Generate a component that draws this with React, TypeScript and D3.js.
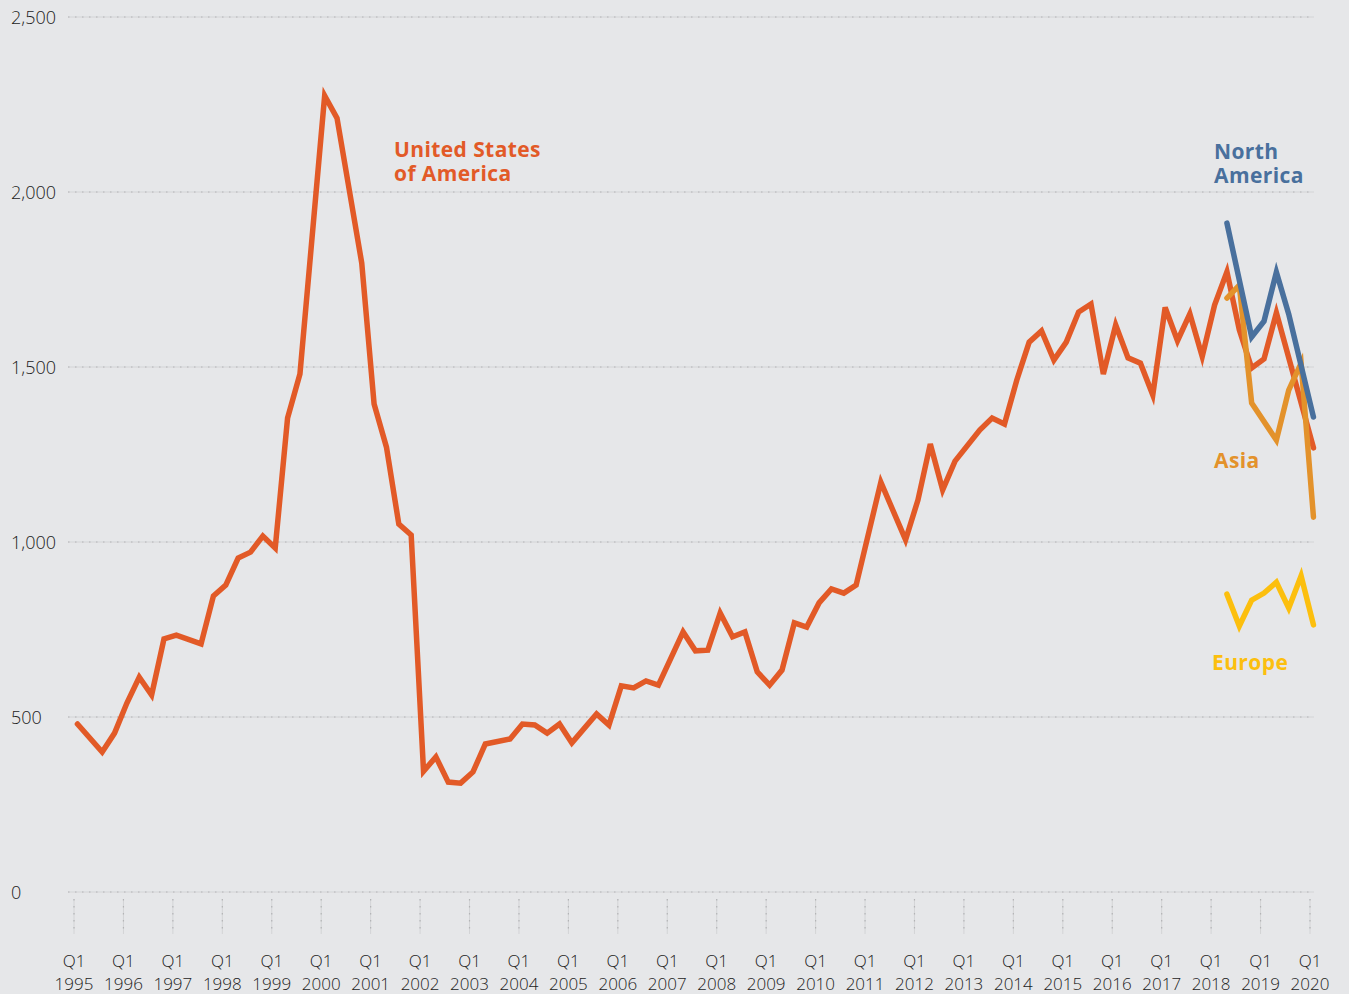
import { scaleLinear, line } from "d3";

// quarters are written "YYYY-Qn"; only the turning points of each line are listed
const usPeriods = [
  "1995-Q1", "1995-Q3", "1995-Q4", "1996-Q1", "1996-Q2", "1996-Q3", "1996-Q4",
  "1997-Q1", "1997-Q3", "1997-Q4", "1998-Q1", "1998-Q2", "1998-Q3", "1998-Q4",
  "1999-Q1", "1999-Q2", "1999-Q3", "2000-Q1", "2000-Q2", "2000-Q4", "2001-Q1",
  "2001-Q2", "2001-Q3", "2001-Q4", "2002-Q1", "2002-Q2", "2002-Q3", "2002-Q4",
  "2003-Q1", "2003-Q2", "2003-Q4", "2004-Q1", "2004-Q2", "2004-Q3", "2004-Q4",
  "2005-Q1", "2005-Q3", "2005-Q4", "2006-Q1", "2006-Q2", "2006-Q3", "2006-Q4",
  "2007-Q2", "2007-Q3", "2007-Q4", "2008-Q1", "2008-Q2", "2008-Q3", "2008-Q4",
  "2009-Q1", "2009-Q2", "2009-Q3", "2009-Q4", "2010-Q1", "2010-Q2", "2010-Q3",
  "2010-Q4", "2011-Q2", "2011-Q4", "2012-Q1", "2012-Q2", "2012-Q3", "2012-Q4",
  "2013-Q2", "2013-Q3", "2013-Q4", "2014-Q1", "2014-Q2", "2014-Q3", "2014-Q4",
  "2015-Q1", "2015-Q2", "2015-Q3", "2015-Q4", "2016-Q1", "2016-Q2", "2016-Q3",
  "2016-Q4", "2017-Q1", "2017-Q2", "2017-Q3", "2017-Q4", "2018-Q1", "2018-Q2",
  "2018-Q3", "2018-Q4", "2019-Q1", "2019-Q2", "2020-Q1",
];
const usValues = [
  480, 400, 454, 540, 614, 563, 723,
  734, 709, 846, 877, 954, 971, 1017,
  983, 1354, 1480, 2275, 2211, 1797, 1394,
  1271, 1051, 1020, 345, 386, 314, 311,
  343, 423, 437, 480, 477, 454, 480,
  426, 509, 477, 589, 583, 603, 591,
  743, 689, 691, 797, 729, 743, 629,
  591, 634, 769, 757, 826, 866, 854,
  877, 1171, 1006, 1120, 1280, 1149, 1231,
  1320, 1354, 1337, 1463, 1571, 1603, 1520,
  1571, 1657, 1680, 1480, 1620, 1526, 1511,
  1420, 1670, 1575, 1652, 1530, 1677, 1772,
  1606, 1497, 1523, 1655, 1269,
];

const regionPeriods = [
  "2018-Q2", "2018-Q3", "2018-Q4", "2019-Q1", "2019-Q2", "2019-Q3", "2019-Q4", "2020-Q1",
];
const northAmericaValues = [1911, null, 1586, 1631, 1771, 1651, null, 1357];
const asiaValues = [1697, 1734, 1397, null, 1291, 1434, 1511, 1071];
const europeValues = [851, 760, 834, 854, 885, 811, 903, 763];

const yTicks = [0, 500, 1000, 1500, 2000, 2500];
const tickYears = [
  1995, 1996, 1997, 1998, 1999, 2000, 2001, 2002, 2003, 2004, 2005, 2006, 2007,
  2008, 2009, 2010, 2011, 2012, 2013, 2014, 2015, 2016, 2017, 2018, 2019, 2020,
];

const W = 1349;
const H = 994;
const BG = "#e6e7e9";
const US = "#e25a27";
const NA = "#49709d";
const ASIA = "#e3922b";
const EUROPE = "#fcbf0e";
const AXIS_FONT = "'Open Sans', Lato, sans-serif";
const LABEL_FONT = "'Open Sans', Lato, sans-serif";
const INK = "#1c1c1c";

// data points sit a little after the Q1 tick of their quarter
const POINT_OFFSET = 0.28;
const toQuarter = (p: string) => {
  const [y, q] = p.split("-Q");
  return (+y - 1995) * 4 + (+q - 1);
};

const App = () => {
  const x = scaleLinear().domain([0, 100]).range([74, 1310]);
  const y = scaleLinear().domain([0, 2500]).range([892, 17]);

  const path = line<[number, number | null]>()
    .defined((d) => d[1] != null)
    .x((d) => x(d[0] + POINT_OFFSET))
    .y((d) => y(d[1] as number));

  const series = (periods: string[], values: (number | null)[]) =>
    periods
      .map((p, i) => [toQuarter(p), values[i]] as [number, number | null])
      .filter((d) => d[1] != null);

  const lines = [
    { color: US, d: path(series(usPeriods, usValues)) },
    { color: ASIA, d: path(series(regionPeriods, asiaValues)) },
    { color: EUROPE, d: path(series(regionPeriods, europeValues)) },
    { color: NA, d: path(series(regionPeriods, northAmericaValues)) },
  ];

  return (
    <svg
      width={W}
      height={H}
      style={{ position: "absolute", left: 0, top: 0, background: BG }}
    >
      <rect width={W} height={H} fill={BG} />

      {yTicks.map((t) => (
        <g key={t}>
          <line x1={68} x2={1314} y1={y(t)} y2={y(t)} stroke="#d3d4d6" strokeWidth={1} />
          <line
            x1={68}
            x2={1314}
            y1={y(t)}
            y2={y(t)}
            stroke="#b3b4b6"
            strokeWidth={1.2}
            strokeDasharray="1.5 5.5"
          />
          <text
            x={11}
            y={y(t) + 1}
            dy="0.35em"
            fontFamily={AXIS_FONT}
            fontSize={18}
            fontWeight={300}
            fill={INK}
          >
            {t.toLocaleString("en-US")}
          </text>
        </g>
      ))}

      {tickYears.map((yr) => {
        const tx = x((yr - 1995) * 4);
        return (
          <g key={yr}>
            <line x1={tx} x2={tx} y1={899} y2={934} stroke="#d3d4d6" strokeWidth={1} />
            <line
              x1={tx}
              x2={tx}
              y1={899}
              y2={934}
              stroke="#b3b4b6"
              strokeWidth={1.2}
              strokeDasharray="1.5 5.5"
            />
            <text
              textAnchor="middle"
              fontFamily={AXIS_FONT}
              fontSize={17}
              fontWeight={300}
              fill={INK}
            >
              <tspan x={tx} y={967}>Q1</tspan>
              <tspan x={tx} y={990}>{yr}</tspan>
            </text>
          </g>
        );
      })}

      {lines.map((l, i) => (
        <path
          key={i}
          d={l.d ?? ""}
          fill="none"
          stroke={l.color}
          strokeWidth={5.5}
          strokeLinejoin="miter"
          strokeLinecap="round"
        />
      ))}

      <g fontFamily={LABEL_FONT} fontWeight={700} fontSize={21} letterSpacing={0.4}>
        <text fill={US}>
          <tspan x={394} y={157}>United States</tspan>
          <tspan x={394} y={181}>of America</tspan>
        </text>
        <text fill={NA}>
          <tspan x={1214} y={159}>North</tspan>
          <tspan x={1214} y={183}>America</tspan>
        </text>
        <text x={1214} y={468} fill={ASIA}>Asia</text>
        <text x={1212} y={670} fill={EUROPE}>Europe</text>
      </g>
    </svg>
  );
};

export default App;
